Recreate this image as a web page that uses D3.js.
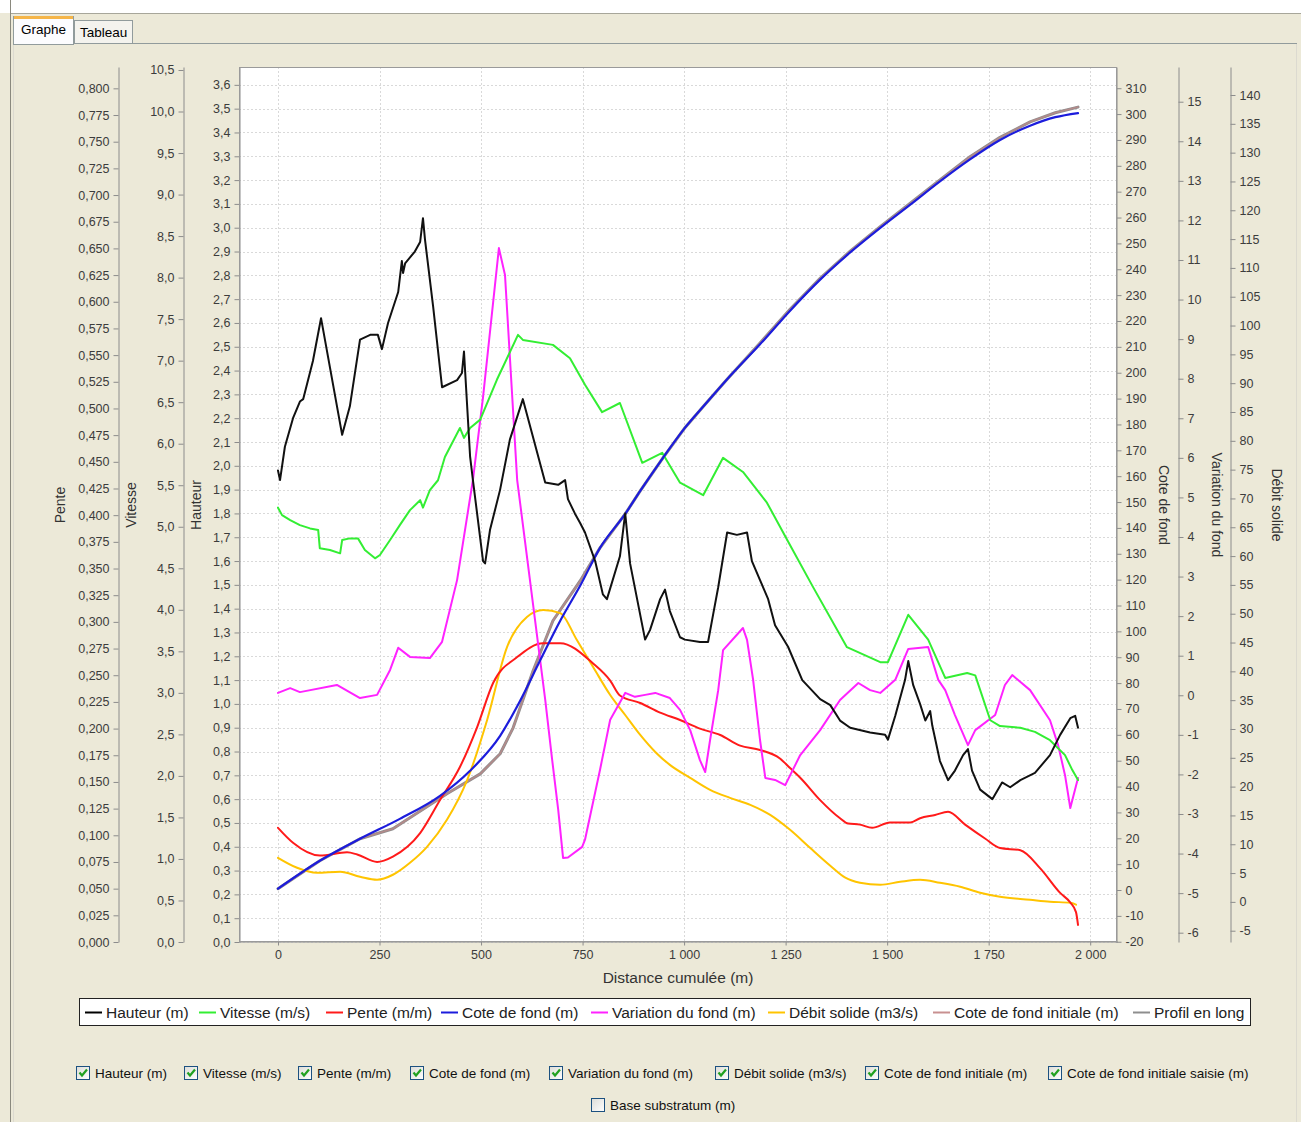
<!DOCTYPE html>
<html>
<head>
<meta charset="utf-8">
<script src="https://cdn.jsdelivr.net/npm/d3@7"></script>
<style>
  html, body { margin: 0; padding: 0; background: #ECE9D8; }
  svg text { font-family: "Liberation Sans", Arial, sans-serif; }
</style>
</head>
<body>
<svg id="chart" width="1301" height="1122"></svg>
<script>
// ---- Longitudinal profile results (distance in m) ----
const hauteurDist = [0,5,17,37,54,62,86,106,158,177,202,227,246,256,271,296,305,308,313,337,350,357,362,382,404,441,453,458,473,480,505,510,522,547,571,603,658,690,707,714,731,744,756,781,800,810,842,855,867,904,916,941,953,965,990,1002,1039,1059,1072,1084,1106,1130,1155,1167,1187,1207,1224,1256,1291,1335,1360,1384,1409,1458,1495,1502,1520,1544,1552,1564,1581,1594,1606,1611,1630,1650,1667,1687,1699,1709,1729,1759,1783,1803,1828,1864,1901,1926,1951,1963,1970];
const hauteurVal = [1.98,1.94,2.08,2.20,2.27,2.28,2.44,2.62,2.13,2.25,2.53,2.55,2.55,2.49,2.60,2.73,2.86,2.81,2.85,2.90,2.94,3.04,2.95,2.67,2.33,2.36,2.39,2.48,2.04,1.94,1.60,1.59,1.73,1.90,2.11,2.28,1.93,1.92,1.94,1.86,1.80,1.76,1.72,1.60,1.46,1.44,1.62,1.80,1.59,1.27,1.31,1.44,1.48,1.39,1.28,1.27,1.26,1.26,1.38,1.49,1.72,1.71,1.72,1.60,1.52,1.44,1.33,1.24,1.10,1.02,0.995,0.93,0.90,0.88,0.87,0.85,0.95,1.10,1.18,1.08,1.00,0.93,0.97,0.91,0.76,0.68,0.72,0.785,0.81,0.72,0.64,0.60,0.67,0.65,0.68,0.71,0.785,0.87,0.94,0.95,0.90];

const vitesseDist = [0,10,30,54,79,99,103,128,153,158,177,197,214,239,251,276,300,325,350,357,374,394,411,448,458,473,498,539,591,603,677,719,756,798,842,897,946,990,1047,1096,1145,1204,1254,1318,1401,1483,1502,1552,1601,1643,1697,1717,1754,1778,1828,1864,1901,1938,1956,1970];
const vitesseVal = [5.23,5.14,5.08,5.02,4.98,4.96,4.74,4.72,4.68,4.84,4.86,4.86,4.72,4.62,4.66,4.84,5.02,5.20,5.32,5.23,5.44,5.56,5.84,6.19,6.07,6.19,6.29,6.77,7.31,7.25,7.19,7.03,6.71,6.38,6.49,5.77,5.89,5.53,5.38,5.83,5.66,5.29,4.84,4.27,3.55,3.37,3.37,3.94,3.64,3.18,3.24,3.21,2.67,2.60,2.58,2.53,2.43,2.25,2.07,1.95];

const penteDist = [0,37,103,170,195,244,283,350,399,448,490,530,589,653,695,776,818,842,892,941,990,1039,1089,1138,1187,1236,1261,1286,1335,1384,1404,1433,1463,1507,1557,1581,1618,1650,1692,1741,1778,1828,1877,1926,1951,1965,1970];
const penteVal = [0.107,0.093,0.081,0.084,0.082,0.075,0.080,0.102,0.133,0.164,0.201,0.243,0.267,0.280,0.280,0.261,0.245,0.231,0.224,0.215,0.208,0.200,0.194,0.184,0.180,0.172,0.163,0.154,0.133,0.116,0.111,0.110,0.107,0.112,0.112,0.116,0.119,0.122,0.110,0.097,0.088,0.086,0.069,0.046,0.037,0.028,0.016];

const coteDist = [0,103,202,300,399,473,547,596,645,695,744,793,855,892,948,1000,1052,1106,1187,1261,1335,1409,1483,1557,1630,1704,1778,1852,1914,1970];
const coteVal = [0.5,11.3,19.8,27.5,36.4,46.1,59.6,73.1,88.6,104.1,117.6,132.3,145.4,154.3,167.1,178.3,187.8,197.5,211.0,224.0,236.0,246.5,256.0,265.0,274.0,282.5,290.0,295.5,298.8,300.4];

const variationDist = [0,30,54,145,202,244,276,296,325,374,404,441,480,505,544,559,589,633,658,675,690,702,714,749,756,793,818,855,879,904,929,965,990,1015,1039,1052,1064,1084,1096,1145,1155,1170,1187,1200,1224,1249,1286,1335,1384,1429,1458,1483,1520,1552,1601,1626,1643,1667,1699,1717,1766,1790,1808,1852,1901,1921,1938,1951,1970];
const variationVal = [0.06,0.18,0.08,0.26,-0.07,0.01,0.64,1.20,0.97,0.94,1.35,2.91,5.44,7.54,11.30,10.62,5.44,1.90,-0.11,-1.62,-2.89,-4.11,-4.10,-3.83,-3.65,-1.88,-0.62,0.06,-0.04,0.01,0.06,-0.07,-0.37,-0.88,-1.64,-1.94,-1.13,0.13,1.14,1.70,1.40,0.39,-1.13,-2.09,-2.14,-2.27,-1.51,-0.88,-0.12,0.31,0.13,0.06,0.39,1.17,1.22,0.39,0.13,-0.50,-1.26,-0.88,-0.50,0.26,0.51,0.13,-0.63,-1.26,-2.02,-2.85,-2.09];

const debitDist = [0,47,96,153,202,244,283,325,367,416,466,515,564,613,653,695,736,776,818,855,892,929,965,1015,1064,1113,1163,1212,1261,1310,1360,1397,1433,1483,1532,1581,1630,1680,1729,1778,1852,1901,1951,1965];
const debitVal = [7.65,5.92,5.05,5.23,4.36,3.84,4.71,6.79,9.56,14.24,21.17,31.57,44.22,49.42,50.63,50.11,45.43,40.75,35.90,32.43,28.97,26.02,23.77,21.52,19.44,18.05,16.84,15.10,12.50,9.38,6.27,4.19,3.32,2.97,3.49,3.84,3.32,2.63,1.59,0.89,0.37,0.03,-0.15,-0.49];

const initDist = [0,103,202,283,416,498,547,579,628,677,744,793,855,892,948,1000,1052,1106,1187,1261,1335,1409,1483,1557,1630,1704,1778,1852,1914,1970];
const initVal = [0.5,11.3,19.8,23.7,37.2,44.9,52.7,62.7,84.7,104.1,119.5,132.3,145.4,154.3,167.1,178.3,187.8,197.5,211.5,224.5,236.5,247.0,256.5,265.5,274.5,283.5,291.0,297.0,300.5,302.7];
const profilVal = [0.5,11.3,19.8,23.7,37.2,44.9,52.7,62.7,84.7,104.1,119.5,132.3,145.4,154.3,167.1,178.3,187.8,197.5,211.5,224.5,236.5,247.0,256.5,265.5,274.5,283.5,291.0,297.0,300.5,302.7];

// ---- Tick values of the axes ----
const xTicks = [0,250,500,750,1000,1250,1500,1750,2000];
const penteTicks = d3.range(0, 33).map(i => i * 0.025);
const vitesseTicks = d3.range(0, 22).map(i => i * 0.5);
const hauteurTicks = d3.range(0, 37).map(i => i / 10);
const coteTicks = d3.range(-20, 311, 10);
const variationTicks = d3.range(-6, 16, 1);
const debitTicks = d3.range(-5, 141, 5);

const legendLabels = ["Hauteur (m)","Vitesse (m/s)","Pente (m/m)","Cote de fond (m)","Variation du fond (m)","Débit solide (m3/s)","Cote de fond initiale (m)","Profil en long"];
const checkLabels = ["Hauteur (m)","Vitesse (m/s)","Pente (m/m)","Cote de fond (m)","Variation du fond (m)","Débit solide (m3/s)","Cote de fond initiale (m)","Cote de fond initiale saisie (m)"];

// ---- Layout ----
const svg = d3.select("#chart");
const P = { left: 239, top: 67, right: 1117, bottom: 942 };
const fr = d3.formatLocale({ decimal: ",", thousands: "\u00a0", grouping: [3], currency: ["", " €"], minus: "-" });

// window chrome
svg.append("rect").attr("x", 0).attr("y", 0).attr("width", 1301).attr("height", 13).attr("fill", "#fff");
svg.append("line").attr("x1", 10).attr("x2", 1301).attr("y1", 13.5).attr("y2", 13.5).attr("stroke", "#a7a69a");
svg.append("line").attr("x1", 10.5).attr("x2", 10.5).attr("y1", 0).attr("y2", 1122).attr("stroke", "#8a897e");
svg.append("line").attr("x1", 13).attr("x2", 1297).attr("y1", 43.5).attr("y2", 43.5).attr("stroke", "#919b9c");
svg.append("line").attr("x1", 13.5).attr("x2", 13.5).attr("y1", 44).attr("y2", 1122).attr("stroke", "#dcdad0");
svg.append("line").attr("x1", 1296.5).attr("x2", 1296.5).attr("y1", 44).attr("y2", 1122).attr("stroke", "#dcdad0");

// tabs
const tabs = svg.append("g");
tabs.append("rect").attr("x", 74.5).attr("y", 20.5).attr("width", 58).attr("height", 23).attr("fill", "#f4f3ee").attr("stroke", "#919b9c");
tabs.append("text").attr("x", 80).attr("y", 37).attr("font-size", 13.5).attr("fill", "#000").text("Tableau");
tabs.append("rect").attr("x", 13.5).attr("y", 16.5).attr("width", 60).attr("height", 28).attr("fill", "#fcfcfe").attr("stroke", "#919b9c");
tabs.append("rect").attr("x", 14).attr("y", 16).attr("width", 59).attr("height", 3).attr("fill", "#f5b548");
tabs.append("text").attr("x", 21).attr("y", 34).attr("font-size", 13.5).attr("fill", "#000").text("Graphe");

// scales
const x = d3.scaleLinear().domain([-96, 2066]).range([P.left, P.right]);
const yH = d3.scaleLinear().domain([0, 3.675]).range([P.bottom, P.top]);
const yV = d3.scaleLinear().domain([0, 10.536]).range([P.bottom, P.top]);
const yP = d3.scaleLinear().domain([0, 0.82]).range([P.bottom, P.top]);
const yC = d3.scaleLinear().domain([-20.1, 318.2]).range([P.bottom, P.top]);
const yVar = d3.scaleLinear().domain([-6.235, 15.877]).range([P.bottom, P.top]);
const yD = d3.scaleLinear().domain([-6.96, 144.86]).range([P.bottom, P.top]);

// plot background & grid
svg.append("rect").attr("x", P.left).attr("y", P.top).attr("width", P.right - P.left).attr("height", P.bottom - P.top).attr("fill", "#fff");
const grid = svg.append("g").attr("stroke", "#d9d9d9").attr("stroke-dasharray", "2,2").attr("stroke-width", 1);
hauteurTicks.forEach(t => {
  const yy = Math.round(yH(t)) + 0.5;
  grid.append("line").attr("x1", P.left).attr("x2", P.right).attr("y1", yy).attr("y2", yy);
});
xTicks.forEach(t => {
  const xx = Math.round(x(t)) + 0.5;
  grid.append("line").attr("x1", xx).attr("x2", xx).attr("y1", P.top).attr("y2", P.bottom);
});

// axes
function styleAxis(g) {
  g.select(".domain").attr("stroke", "#8c8c8c");
  g.selectAll(".tick line").attr("stroke", "#8c8c8c");
  g.selectAll(".tick text").attr("fill", "#3c3c3c").attr("font-size", 12.5).attr("font-family", "Liberation Sans, Arial, sans-serif");
}
function leftAxis(scale, ticks, fmt, xPos) {
  svg.append("g").attr("transform", `translate(${xPos},0)`)
    .call(d3.axisLeft(scale).tickValues(ticks).tickFormat(fr.format(fmt)).tickSizeInner(5).tickSizeOuter(0).tickPadding(4))
    .call(styleAxis);
}
function rightAxis(scale, ticks, fmt, xPos) {
  svg.append("g").attr("transform", `translate(${xPos},0)`)
    .call(d3.axisRight(scale).tickValues(ticks).tickFormat(fr.format(fmt)).tickSizeInner(5).tickSizeOuter(0).tickPadding(4))
    .call(styleAxis);
}
leftAxis(yP, penteTicks, ".3f", 118.5);
leftAxis(yV, vitesseTicks, ".1f", 183.5);
leftAxis(yH, hauteurTicks, ".1f", P.left + 0.5);
rightAxis(yC, coteTicks, "d", P.right - 0.5);
rightAxis(yVar, variationTicks, "d", 1178.5);
rightAxis(yD, debitTicks, "d", 1230.5);

svg.append("g").attr("transform", `translate(0,${P.bottom - 0.5})`)
  .call(d3.axisBottom(x).tickValues(xTicks).tickFormat(fr.format(",d")).tickSizeInner(4).tickSizeOuter(0).tickPadding(5))
  .call(styleAxis);

// axis titles
function vTitle(label, xPos, rot) {
  svg.append("text").attr("transform", `translate(${xPos},505) rotate(${rot})`)
    .attr("text-anchor", "middle").attr("dominant-baseline", "central")
    .attr("font-size", 14).attr("fill", "#333").text(label);
}
vTitle("Pente", 60, -90);
vTitle("Vitesse", 131, -90);
vTitle("Hauteur", 196, -90);
vTitle("Cote de fond", 1164, 90);
vTitle("Variation du fond", 1217, 90);
vTitle("Débit solide", 1277, 90);
svg.append("text").attr("x", 678).attr("y", 983).attr("text-anchor", "middle")
  .attr("font-size", 15.5).attr("fill", "#333").text("Distance cumulée (m)");

// plot frame
svg.append("rect").attr("x", P.left + 0.5).attr("y", P.top + 0.5).attr("width", P.right - P.left - 1).attr("height", P.bottom - P.top - 1)
  .attr("fill", "none").attr("stroke", "#9a9a9a");

// series
svg.append("clipPath").attr("id", "plotClip").append("rect")
  .attr("x", P.left).attr("y", P.top).attr("width", P.right - P.left).attr("height", P.bottom - P.top);
const series = svg.append("g").attr("clip-path", "url(#plotClip)").attr("fill", "none")
  .attr("stroke-linejoin", "round").attr("stroke-linecap", "round");

function draw(dist, vals, yScale, color, width, curve) {
  const pts = d3.zip(dist, vals);
  const line = d3.line().x(d => x(d[0])).y(d => yScale(d[1])).curve(curve || d3.curveLinear);
  series.append("path").attr("d", line(pts)).attr("stroke", color).attr("stroke-width", width);
}
draw(initDist, profilVal, yC, "#8e8e8e", 3);
draw(initDist, initVal, yC, "#b48a8a", 1.6);
draw(debitDist, debitVal, yD, "#ffc400", 2, d3.curveMonotoneX);
draw(penteDist, penteVal, yP, "#ff1a1a", 2, d3.curveMonotoneX);
draw(variationDist, variationVal, yVar, "#ff22ff", 2);
draw(vitesseDist, vitesseVal, yV, "#33ee33", 2);
draw(coteDist, coteVal, yC, "#1c1cdc", 2.2, d3.curveMonotoneX);
draw(hauteurDist, hauteurVal, yH, "#111", 2);

// legend
const legendColors = ["#000", "#33ee33", "#ff1a1a", "#1c1cdc", "#ff22ff", "#ffc400", "#c89090", "#8e8e8e"];
const legendX = [85, 199, 326, 441, 591, 768, 933, 1133];
const lg = svg.append("g");
lg.append("rect").attr("x", 79.5).attr("y", 998.5).attr("width", 1171).attr("height", 27).attr("fill", "#fff").attr("stroke", "#222");
legendLabels.forEach((lab, i) => {
  lg.append("line").attr("x1", legendX[i]).attr("x2", legendX[i] + 17).attr("y1", 1012.5).attr("y2", 1012.5)
    .attr("stroke", legendColors[i]).attr("stroke-width", 2);
  lg.append("text").attr("x", legendX[i] + 21).attr("y", 1018).attr("font-size", 15.5).attr("fill", "#222").text(lab);
});

// series toggles
const defs = svg.append("defs");
const lgr = defs.append("linearGradient").attr("id", "cbGrad").attr("x1", 0).attr("y1", 0).attr("x2", 1).attr("y2", 1);
lgr.append("stop").attr("offset", "0%").attr("stop-color", "#dcdcd7");
lgr.append("stop").attr("offset", "100%").attr("stop-color", "#ffffff");

function checkbox(bx, by, label, checked) {
  const g = svg.append("g");
  g.append("rect").attr("x", bx + 0.5).attr("y", by + 0.5).attr("width", 13).attr("height", 13)
    .attr("fill", "url(#cbGrad)").attr("stroke", "#1c5180");
  if (checked) {
    g.append("path").attr("d", `M${bx + 3.5},${by + 6.5} L${bx + 6},${by + 9.5} L${bx + 11},${by + 3.5}`)
      .attr("fill", "none").attr("stroke", "#21a121").attr("stroke-width", 2.2);
  }
  g.append("text").attr("x", bx + 19).attr("y", by + 12).attr("font-size", 13.5).attr("fill", "#111").text(label);
}

const checkX = [76, 184, 298, 410, 549, 715, 865, 1048];
checkLabels.forEach((lab, i) => checkbox(checkX[i], 1066, lab, true));
checkbox(591, 1098, "Base substratum (m)", false);
</script>
</body>
</html>
